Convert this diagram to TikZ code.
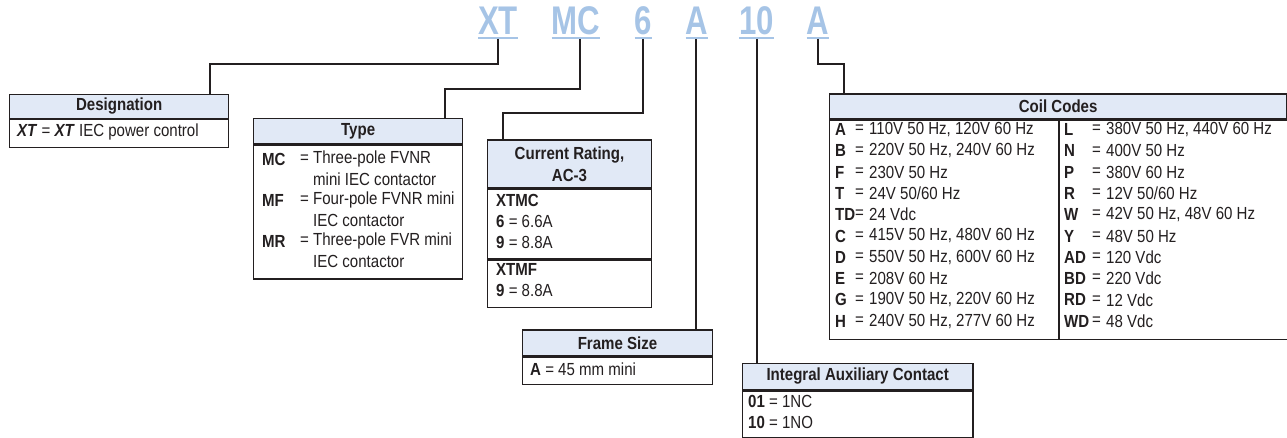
\documentclass[tikz,border=0pt]{standalone}
\usepackage{fontspec}
\setmainfont{Liberation Sans}[FakeStretch=0.86]
\newfontfamily\lblfont{Liberation Sans}[FakeStretch=0.78]
\definecolor{lblblue}{RGB}{166,196,230}
\definecolor{hdrfill}{RGB}{225,233,246}
\definecolor{ink}{RGB}{35,31,32}
\begin{document}
\begin{tikzpicture}[x=1pt,y=-1pt,
  lbl/.style={font=\lblfont\bfseries\fontsize{40}{40}\selectfont, text=lblblue, inner sep=0pt, anchor=base},
  ul/.style={draw=lblblue, line width=2pt},
  conn/.style={draw=ink, line width=2pt},
  hdr/.style={draw=ink, line width=1.3pt, fill=hdrfill, inner sep=0pt, anchor=north west,
    font=\bfseries\fontsize{17.5}{22}\selectfont, text=ink, align=center},
  bodybox/.style={draw=ink, line width=1.3pt, fill=white, inner sep=0pt, anchor=north west},
  txt/.style={inner sep=0pt, anchor=west, font=\fontsize{17.5}{21}\selectfont, text=ink},
  code/.style={txt, font=\bfseries\fontsize{17.5}{21}\selectfont},
]
\useasboundingbox (0,0) rectangle (1287,438);

% ---- top labels
\node[lbl] (lXT) at (498,35) {XT};
\node[lbl] (lMC) at (576,35) {MC};
\node[lbl] (l6) at (643.5,35) {6};
\node[lbl] (lA) at (697,35) {A};
\node[lbl] (l10) at (756.5,35) {10};
\node[lbl] (lA2) at (818,35) {A};
\foreach \n in {lXT,lMC,l6,lA,l10,lA2}
  \draw[ul] ([yshift=-2.8pt]\n.base west) -- ([yshift=-2.8pt]\n.base east);

\coordinate (tXT) at (498,39);
\coordinate (tMC) at (580,39);
\coordinate (t6) at (643,39);
\coordinate (tA) at (696,39);
\coordinate (t10) at (757,39);
\coordinate (tA2) at (817.5,39);

% ---- Designation
\node[hdr, minimum width=219pt, minimum height=23.7pt] (dsgH) at (9,94) {Designation};
\node[bodybox, minimum width=219pt, minimum height=28pt] (dsgB) at (dsgH.south west) {};
\node[txt] (dsg1) at (17,131.7) {\textbf{\textit{XT}} = \textbf{\textit{XT}} IEC power control};

% ---- Type
\node[hdr, minimum width=209pt, minimum height=25.3pt] (typH) at (253,117.7) {Type};
\node[bodybox, minimum width=209pt, minimum height=134pt] (typB) at (typH.south west) {};
\node[code] (typc1) at (262,159) {MC};
\node[txt] (typv1) at (300,159) {= Three-pole FVNR};
\node[txt] (typv1b) at (313,179.5) {mini IEC contactor};
\node[code] (typc2) at (262,200) {MF};
\node[txt] (typv2) at (300,200) {= Four-pole FVNR mini};
\node[txt] (typv2b) at (313,220.5) {IEC contactor};
\node[code] (typc3) at (262,241) {MR};
\node[txt] (typv3) at (300,241) {= Three-pole FVR mini};
\node[txt] (typv3b) at (313,261.5) {IEC contactor};

% ---- Current Rating
\node[hdr, minimum width=164.3pt, minimum height=47.7pt] (curH) at (486.7,139.3) {Current Rating,\\AC-3};
\node[bodybox, minimum width=164.3pt, minimum height=70pt] (curB1) at (curH.south west) {};
\node[bodybox, minimum width=164.3pt, minimum height=47pt] (curB2) at (curB1.south west) {};
\node[code] (cur1) at (496,200) {XTMC};
\node[txt] (cur2) at (496,221) {\textbf{6} = 6.6A};
\node[txt] (cur3) at (496,242) {\textbf{9} = 8.8A};
\node[code] (cur4) at (496,269) {XTMF};
\node[txt] (cur5) at (496,290) {\textbf{9} = 8.8A};

% ---- Frame Size
\node[hdr, minimum width=190.3pt, minimum height=26pt] (frmH) at (521.7,329.3) {Frame Size};
\node[bodybox, minimum width=190.3pt, minimum height=27pt] (frmB) at (frmH.south west) {};
\node[txt] (frm1) at (530,368.8) {\textbf{A} = 45 mm mini};

% ---- Integral Auxiliary Contact
\node[hdr, minimum width=230.6pt, minimum height=26.3pt] (iacH) at (741.7,362.7) {Integral Auxiliary Contact};
\node[bodybox, minimum width=230.6pt, minimum height=46.5pt] (iacB) at (iacH.south west) {};
\node[txt] (iac1) at (748,401.5) {\textbf{01} = 1NC};
\node[txt] (iac2) at (748,422.5) {\textbf{10} = 1NO};

% ---- Coil Codes
\node[hdr, minimum width=457pt, minimum height=25pt] (coilH) at (829,93.3) {Coil Codes};
\node[bodybox, minimum width=228.7pt, minimum height=219pt] (coilBL) at (coilH.south west) {};
\node[bodybox, minimum width=228.3pt, minimum height=219pt] (coilBR) at (coilBL.north east) {};
\foreach \c/\v [count=\i] in {A/{110V 50 Hz, 120V 60 Hz}, B/{220V 50 Hz, 240V 60 Hz}, F/{230V 50 Hz},
   T/{24V 50/60 Hz}, TD/{24 Vdc}, C/{415V 50 Hz, 480V 60 Hz}, D/{550V 50 Hz, 600V 60 Hz},
   E/{208V 60 Hz}, G/{190V 50 Hz, 220V 60 Hz}, H/{240V 50 Hz, 277V 60 Hz}} {
  \node[code] (cLc\i) at (835,{129.5+21.3*(\i-1)}) {\c};
  \node[txt] (cLe\i) at (855,{129.5+21.3*(\i-1)}) {=};
  \node[txt] (cLv\i) at (869,{129.5+21.3*(\i-1)}) {\v};
}
\foreach \c/\v [count=\i] in {L/{380V 50 Hz, 440V 60 Hz}, N/{400V 50 Hz}, P/{380V 60 Hz},
   R/{12V 50/60 Hz}, W/{42V 50 Hz, 48V 60 Hz}, Y/{48V 50 Hz}, AD/{120 Vdc}, BD/{220 Vdc},
   RD/{12 Vdc}, WD/{48 Vdc}} {
  \node[code] (cRc\i) at (1064,{129.5+21.3*(\i-1)}) {\c};
  \node[txt] (cRe\i) at (1092,{129.5+21.3*(\i-1)}) {=};
  \node[txt] (cRv\i) at (1106,{129.5+21.3*(\i-1)}) {\v};
}

% ---- connectors
\draw[conn] (tXT) -- ++(0,25) -| (210,0 |- dsgH.north);
\draw[conn] (tMC) -- ++(0,50) -| (445,0 |- typH.north);
\draw[conn] (t6) -- ++(0,74) -| (503,0 |- curH.north);
\draw[conn] (tA) -- (696,0 |- frmH.north);
\draw[conn] (t10) -- (757,0 |- iacH.north);
\draw[conn] (tA2) -- ++(0,25.3) -| (843.5,0 |- coilH.north);
\end{tikzpicture}
\end{document}
